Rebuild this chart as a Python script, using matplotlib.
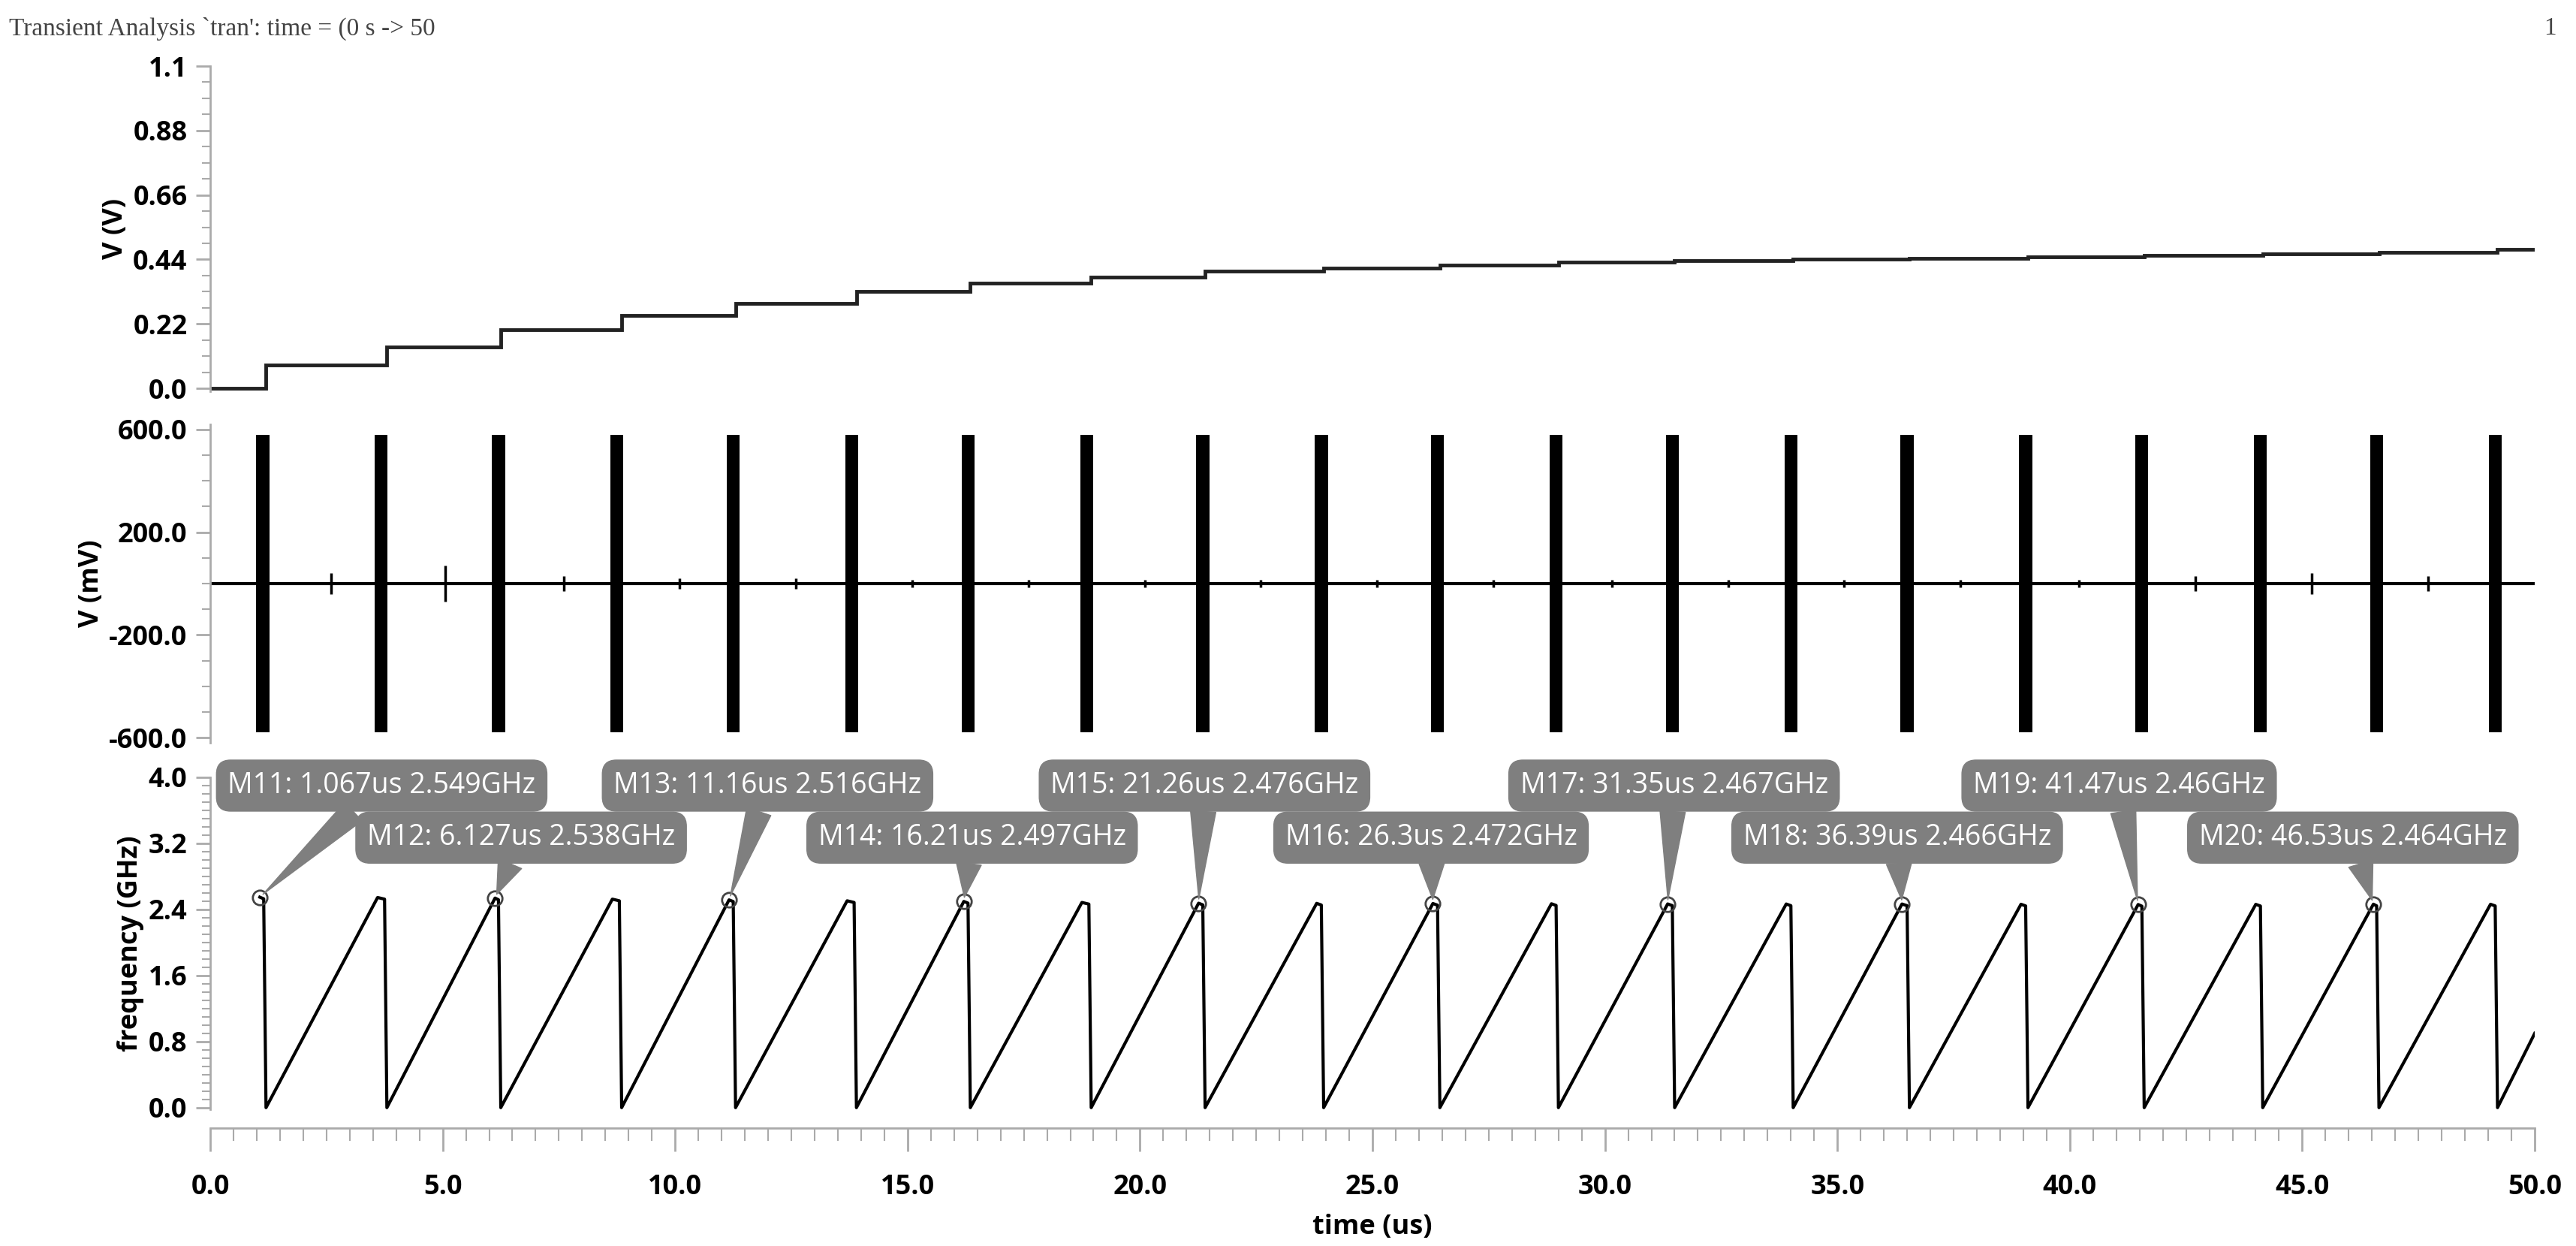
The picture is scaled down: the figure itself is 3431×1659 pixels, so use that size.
import numpy as np
import matplotlib
matplotlib.use("Agg")
import matplotlib.pyplot as plt
from matplotlib.ticker import MultipleLocator, AutoMinorLocator

# ---- data ----
drop_times = [1.2, 3.8, 6.25, 8.85, 11.3, 13.9, 16.35, 18.95, 21.4, 23.95,
              26.45, 29.0, 31.5, 34.05, 36.55, 39.1, 41.6, 44.15, 46.65, 49.2]
peak_times = [1.067, 3.6, 6.127, 8.65, 11.16, 13.7, 16.21, 18.75, 21.26, 23.8,
              26.3, 28.85, 31.35, 33.9, 36.39, 38.95, 41.47, 44.0, 46.53, 49.05]
peak_freq = [2.549, 2.545, 2.538, 2.525, 2.516, 2.505, 2.497, 2.485, 2.476, 2.474,
             2.472, 2.469, 2.467, 2.466, 2.466, 2.463, 2.46, 2.462, 2.464, 2.463]
end_freq = 0.9
step_levels = [0.0, 0.08, 0.14, 0.20, 0.25, 0.29, 0.33, 0.36, 0.38, 0.40, 0.41,
               0.42, 0.43, 0.435, 0.44, 0.445, 0.45, 0.455, 0.46, 0.465, 0.475]
burst_times = [1.13, 3.67, 6.2, 8.75, 11.25, 13.8, 16.3, 18.85, 21.35, 23.9,
               26.4, 28.95, 31.45, 34.0, 36.5, 39.05, 41.55, 44.1, 46.6, 49.15]
burst_amp = [580] * 20
spike_times = [2.6, 5.05, 7.6, 10.1, 12.6, 15.1, 17.6, 20.1, 22.6, 25.1, 27.6,
               30.15, 32.65, 35.15, 37.65, 40.2, 42.7, 45.2, 47.7]
spike_amp = [40, 70, 30, 20, 20, 15, 15, 15, 15, 15, 15, 15, 15, 15, 15, 15, 30, 40, 30]
marker_idx = [0, 2, 4, 6, 8, 10, 12, 14, 16, 18]
marker_names = ["M11", "M12", "M13", "M14", "M15", "M16", "M17", "M18", "M19", "M20"]
marker_tlabels = ["1.067us", "6.127us", "11.16us", "16.21us", "21.26us", "26.3us",
                  "31.35us", "36.39us", "41.47us", "46.53us"]
marker_flabels = ["2.549GHz", "2.538GHz", "2.516GHz", "2.497GHz", "2.476GHz",
                  "2.472GHz", "2.467GHz", "2.466GHz", "2.46GHz", "2.464GHz"]
label_pos = [(7.0, 3.9), (10.0, 3.27), (15.3, 3.9), (19.7, 3.27), (24.7, 3.9),
             (29.4, 3.27), (34.8, 3.9), (39.6, 3.27), (44.2, 3.9), (49.4, 3.27)]

W, H = 3431, 1659
fig = plt.figure(figsize=(W / 100, H / 100), dpi=100)
L, R = 280 / W, 3376 / W
def ax_at(top, bot):
    return fig.add_axes([L, 1 - bot / H, R - L, (bot - top) / H])
ax1 = ax_at(88, 521)
ax2 = ax_at(565, 989)
ax3 = ax_at(1035, 1477)

FONT = "Open Sans"
TS = 26
for ax in (ax1, ax2, ax3):
    ax.set_xlim(0, 50)
    for s in ("top", "right", "bottom"):
        ax.spines[s].set_visible(False)
    ax.spines["left"].set_color("#aaaaaa")
    ax.spines["left"].set_linewidth(2)
    ax.tick_params(axis="y", colors="#aaaaaa", length=14, width=2, labelcolor="black", pad=8)
    ax.tick_params(axis="y", which="minor", colors="#aaaaaa", length=8, width=1.5)
    ax.tick_params(axis="x", bottom=False, labelbottom=False)

# top panel
edges = [0.0] + drop_times + [50.0]
ax1.stairs(step_levels, edges, color="#222222", linewidth=3.5, baseline=None)
ax1.set_ylim(-0.01, 1.1)
ax1.set_yticks([0.0, 0.22, 0.44, 0.66, 0.88, 1.1])
ax1.set_yticklabels(["0.0", "0.22", "0.44", "0.66", "0.88", "1.1"])
ax1.yaxis.set_minor_locator(AutoMinorLocator(4))
ax1.set_ylabel("V (V)", fontsize=TS, fontweight="bold", family=FONT)

# middle panel
ax2.axhline(0, color="black", linewidth=3)
for t, a in zip(burst_times, burst_amp):
    tt = np.linspace(t - 0.14, t + 0.14, 30)
    ax2.fill_between(tt, -a, a, color="black", linewidth=0)
for t, a in zip(spike_times, spike_amp):
    ax2.vlines(t, -a, a, color="black", linewidth=2.5)
ax2.set_ylim(-620, 620)
ax2.set_yticks([-600, -200, 200, 600])
ax2.set_yticklabels(["-600.0", "-200.0", "200.0", "600.0"])
ax2.yaxis.set_minor_locator(AutoMinorLocator(4))
ax2.set_ylabel("V (mV)", fontsize=TS, fontweight="bold", family=FONT)

# bottom panel: sawtooth
xs = [peak_times[0]]; ys = [peak_freq[0]]
for i, d in enumerate(drop_times):
    xs += [d - 0.05, d]
    ys += [peak_freq[i] - 0.02, 0.0]
    if i + 1 < len(peak_times):
        xs.append(peak_times[i + 1]); ys.append(peak_freq[i + 1])
xs.append(50.0); ys.append(end_freq)
ax3.plot(xs, ys, color="black", linewidth=3)
ax3.set_ylim(-0.02, 4.0)
ax3.set_yticks([0.0, 0.8, 1.6, 2.4, 3.2, 4.0])
ax3.set_yticklabels(["0.0", "0.8", "1.6", "2.4", "3.2", "4.0"])
ax3.yaxis.set_minor_locator(AutoMinorLocator(8))
ax3.set_ylabel("frequency (GHz)", fontsize=TS, fontweight="bold", family=FONT)

for k, i in enumerate(marker_idx):
    px, py = peak_times[i], peak_freq[i]
    ax3.plot(px, py, "o", mfc="none", mec="#444444", ms=14, mew=2)
    lx, ly = label_pos[k]
    ax3.annotate(f"{marker_names[k]}: {marker_tlabels[k]} {marker_flabels[k]}",
                 xy=(px, py), xytext=(lx, ly), ha="right", va="center",
                 fontsize=27, family=FONT, color="white", annotation_clip=False,
                 bbox=dict(boxstyle="round,pad=0.4,rounding_size=0.5", fc="#7f7f7f", ec="#7f7f7f"),
                 arrowprops=dict(arrowstyle="wedge,tail_width=0.9", fc="#7f7f7f", ec="#7f7f7f",
                                 shrinkA=0, shrinkB=4))

# x axis
ax3.spines["bottom"].set_visible(True)
ax3.spines["bottom"].set_position(("outward", 18))
ax3.spines["bottom"].set_color("#aaaaaa")
ax3.spines["bottom"].set_linewidth(2)
ax3.tick_params(axis="x", bottom=True, labelbottom=True, colors="#aaaaaa", length=22,
                width=2, labelcolor="black", pad=22)
ax3.tick_params(axis="x", which="minor", bottom=True, colors="#aaaaaa", length=12, width=1.5)
ax3.set_xticks(np.arange(0, 50.1, 5))
ax3.set_xticklabels([f"{v:.1f}" for v in np.arange(0, 50.1, 5)])
ax3.xaxis.set_minor_locator(MultipleLocator(0.5))
ax3.set_xlabel("time (us)", fontsize=TS, fontweight="bold", family=FONT, labelpad=12)

for ax in (ax1, ax2, ax3):
    for lab in ax.get_yticklabels() + ax.get_xticklabels():
        lab.set_fontsize(TS); lab.set_fontweight("bold"); lab.set_family(FONT)

fig.text(12 / W, 1 - 38 / H, "Transient Analysis `tran': time = (0 s -> 50",
         fontsize=24, family="Liberation Serif", color="#444444", va="center")
fig.text(3405 / W, 1 - 38 / H, "1", fontsize=24, family="Liberation Serif",
         color="#444444", va="center", ha="right")

fig.savefig("out.png", dpi=100)
